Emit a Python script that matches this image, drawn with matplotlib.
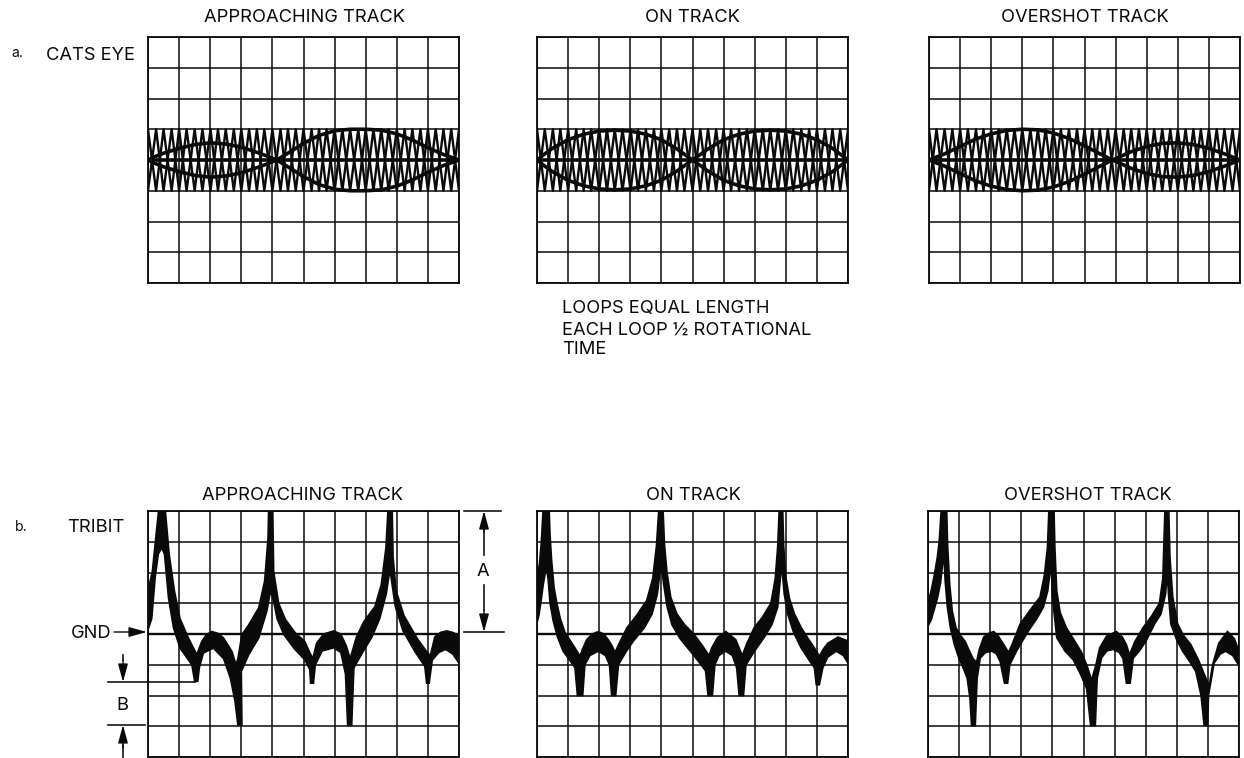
import numpy as np
import matplotlib
matplotlib.use('Agg')
import matplotlib.pyplot as plt
from matplotlib.lines import Line2D

plt.rcParams['font.family'] = ['Inter', 'DejaVu Sans']

titles = ['APPROACHING TRACK', 'ON TRACK', 'OVERSHOT TRACK']

# carrier nodes, grid divisions
carrier_nodes_a = [0.0, 0.26, 0.5, 0.76, 1.0, 1.24, 1.5, 1.75, 2.01, 2.25, 2.5, 2.76, 3.0, 3.25, 3.5, 3.74, 4.0, 4.26, 4.5,
                   4.75, 5.0, 5.26, 5.5, 5.74, 6.0, 6.25, 6.5, 6.76, 7.0, 7.25, 7.5, 7.74, 8.0, 8.25, 8.5, 8.76, 9.0, 9.25,
                   9.5, 9.75, 10.0]
carrier_nodes_b = [0.0, 0.25, 0.51, 0.75, 1.0, 1.26, 1.5, 1.74, 2.0, 2.25, 2.5, 2.75, 3.01, 3.25, 3.5, 3.76, 4.0, 4.25, 4.5,
                   4.74, 5.0, 5.25, 5.5, 5.76, 6.0, 6.24, 6.5, 6.75, 7.0, 7.26, 7.5, 7.75, 8.0, 8.24, 8.5, 8.75, 9.0, 9.26,
                   9.5, 9.75, 10.0]
carrier_nodes_c = [0.0, 0.24, 0.5, 0.75, 1.0, 1.25, 1.51, 1.75, 2.0, 2.24, 2.5, 2.75, 3.0, 3.26, 3.5, 3.75, 4.0, 4.24, 4.5,
                   4.76, 5.0, 5.25, 5.49, 5.75, 6.0, 6.26, 6.5, 6.75, 7.0, 7.24, 7.5, 7.76, 8.0, 8.25, 8.5, 8.74, 9.0, 9.25,
                   9.5, 9.76, 10.0]
carriers = [carrier_nodes_a, carrier_nodes_b, carrier_nodes_c]

# cats eye envelope half heights
eye_x_a = [0, 0.25, 0.5, 1, 1.5, 2, 2.5, 3, 3.5, 3.85, 4.14, 4.5, 5, 5.5, 6, 6.5, 7, 7.5, 8, 8.5, 9, 9.5, 10]
eye_h_a = [0, 0.12, 0.22, 0.38, 0.5, 0.56, 0.52, 0.42, 0.25, 0.12, 0, 0.22, 0.54, 0.8, 0.95, 1.0, 1.0, 0.97, 0.85, 0.65, 0.4, 0.18, 0]
eye_x_b = [0, 0.25, 0.5, 1, 1.5, 2, 2.5, 3, 3.5, 4, 4.5, 5, 5.5, 6, 6.5, 7, 7.5, 8, 8.5, 9, 9.5, 10]
eye_h_b = [0, 0.2, 0.38, 0.66, 0.84, 0.94, 0.97, 0.94, 0.84, 0.66, 0.36, 0, 0.36, 0.66, 0.84, 0.94, 0.97, 0.94, 0.84, 0.66, 0.38, 0]
eye_x_c = [0, 0.5, 1, 1.5, 2, 2.5, 3, 3.5, 4, 4.5, 5, 5.5, 5.9, 6.5, 7, 7.5, 8, 8.5, 9, 9.5, 10]
eye_h_c = [0, 0.2, 0.44, 0.68, 0.85, 0.96, 1.0, 0.98, 0.88, 0.7, 0.46, 0.2, 0, 0.27, 0.44, 0.54, 0.56, 0.5, 0.38, 0.2, 0]
eyes = [(eye_x_a, eye_h_a), (eye_x_b, eye_h_b), (eye_x_c, eye_h_c)]

# tribit traces, upper and lower edge of the band
upper_x_a = [0, 0.14, 0.25, 0.35, 0.55, 0.68, 0.85, 1.03, 1.3, 1.52, 1.57, 1.73, 1.88, 2.05, 2.25, 2.43, 2.7, 2.83, 2.89, 3.02,
             3.24, 3.56, 3.75, 3.86, 3.88, 4.01, 4.04, 4.2, 4.42, 4.74, 5.04, 5.2, 5.3, 5.42, 5.65, 5.97, 6.2, 6.38, 6.5, 6.7,
             6.94, 7.3, 7.5, 7.65, 7.72, 7.85, 7.88, 7.98, 8.23, 8.66, 8.98, 9.08, 9.22, 9.4, 9.6, 9.8, 10]
upper_y_a = [5.4, 6.04, 7.13, 8.1, 8.1, 6.6, 5.4, 4.5, 3.87, 3.43, 3.33, 3.76, 3.98, 4.08, 4.02, 3.87, 3.43, 3.0, 3.2, 3.98,
             4.3, 4.85, 5.72, 7.13, 8.1, 8.1, 6.04, 5.0, 4.47, 4.03, 3.76, 3.4, 3.2, 3.7, 4.0, 4.1, 4.0, 3.6, 3.2, 3.9,
             4.4, 4.9, 5.6, 6.8, 8.1, 8.1, 6.5, 5.4, 4.6, 3.85, 3.4, 3.3, 3.9, 4.05, 4.1, 4.05, 3.95]
lower_x_a = [0, 0.12, 0.23, 0.33, 0.44, 0.53, 0.66, 0.82, 1.03, 1.41, 1.5, 1.6, 1.65, 1.78, 2.1, 2.43, 2.65, 2.8, 2.89, 3.02,
             3.0, 3.24, 3.56, 3.82, 3.94, 4.04, 4.15, 4.37, 4.69, 5.04, 5.2, 5.23, 5.32, 5.38, 5.6, 5.97, 6.2, 6.35, 6.42, 6.55,
             6.62, 6.9, 7.2, 7.45, 7.66, 7.78, 7.85, 7.95, 8.2, 8.6, 8.9, 8.96, 9.04, 9.14, 9.35, 9.57, 9.8, 10]
lower_y_a = [4.14, 4.5, 5.83, 6.6, 6.8, 6.6, 5.17, 4.2, 3.54, 3.0, 2.46, 2.46, 2.9, 3.38, 3.54, 3.2, 2.56, 1.8, 1.04, 1.04,
             2.78, 3.33, 3.87, 4.74, 5.4, 5.07, 4.5, 3.98, 3.54, 3.16, 2.85, 2.4, 2.4, 3.0, 3.45, 3.55, 3.4, 2.7, 1.04, 1.04,
             2.9, 3.4, 3.9, 4.5, 5.3, 6.1, 5.6, 4.9, 4.1, 3.4, 2.95, 2.4, 2.4, 3.15, 3.4, 3.5, 3.35, 3.05]

upper_x_b = [0, 0.08, 0.14, 0.2, 0.39, 0.42, 0.47, 0.55, 0.64, 0.75, 0.9, 1.06, 1.22, 1.38, 1.46, 1.6, 1.78, 1.97, 2.15, 2.3,
             2.42, 2.51, 2.62, 2.89, 3.2, 3.53, 3.72, 3.84, 3.92, 4.05, 4.1, 4.18, 4.3, 4.5, 4.75, 5.04, 5.3, 5.53, 5.62, 5.8,
             6.07, 6.39, 6.6, 6.75, 6.98, 7.25, 7.52, 7.66, 7.74, 7.79, 7.9, 7.93, 8.0, 8.12, 8.28, 8.5, 8.7, 8.9, 9.08, 9.2,
             9.35, 9.68, 10]
upper_y_b = [5.75, 6.3, 7.0, 8.1, 8.1, 7.2, 6.4, 5.5, 5.0, 4.5, 4.05, 3.8, 3.55, 3.28, 3.5, 3.82, 4.0, 4.08, 4.0, 3.8,
             3.6, 3.4, 3.65, 4.2, 4.6, 5.1, 5.8, 6.85, 8.1, 8.1, 6.9, 6.0, 5.2, 4.65, 4.3, 4.0, 3.65, 3.3, 3.55, 3.88,
             4.08, 3.82, 3.3, 3.7, 4.2, 4.55, 5.0, 5.8, 6.85, 8.1, 8.1, 6.9, 5.85, 5.15, 4.65, 4.2, 3.88, 3.58, 3.28, 3.5,
             3.7, 3.9, 3.77]
lower_x_b = [0, 0.06, 0.12, 0.2, 0.3, 0.36, 0.42, 0.52, 0.66, 0.84, 1.05, 1.22, 1.3, 1.47, 1.54, 1.7, 1.97, 2.2, 2.33, 2.4,
             2.53, 2.62, 2.85, 3.1, 3.45, 3.7, 3.87, 3.99, 4.07, 4.18, 4.34, 4.6, 4.93, 5.2, 5.42, 5.5, 5.64, 5.72, 5.85, 6.07,
             6.28, 6.42, 6.5, 6.64, 6.72, 7.0, 7.3, 7.55, 7.74, 7.84, 7.88, 7.95, 8.06, 8.25, 8.49, 8.75, 8.92, 8.98, 9.08, 9.19,
             9.35, 9.62, 9.85, 10]
lower_y_b = [4.37, 4.6, 5.0, 5.6, 6.2, 5.75, 5.0, 4.43, 3.9, 3.44, 3.15, 2.9, 2.0, 2.0, 3.0, 3.3, 3.44, 3.3, 3.0, 2.0,
             2.0, 3.0, 3.4, 3.77, 4.2, 4.65, 5.3, 6.3, 5.64, 4.9, 4.3, 3.85, 3.44, 3.1, 2.8, 2.0, 2.0, 3.0, 3.3, 3.44,
             3.3, 2.9, 2.0, 2.0, 3.0, 3.45, 3.88, 4.3, 4.87, 5.97, 6.1, 5.3, 4.65, 4.05, 3.55, 3.15, 2.9, 2.35, 2.35, 2.9,
             3.25, 3.44, 3.3, 3.05]

upper_x_c = [0, 0.1, 0.2, 0.3, 0.36, 0.43, 0.6, 0.63, 0.7, 0.78, 0.9, 1.05, 1.2, 1.33, 1.45, 1.56, 1.65, 1.79, 1.95, 2.11,
             2.25, 2.38, 2.5, 2.59, 2.7, 2.96, 3.3, 3.6, 3.74, 3.84, 3.89, 4.05, 4.08, 4.14, 4.25, 4.45, 4.7, 4.94, 5.12, 5.26,
             5.4, 5.52, 5.74, 6.06, 6.25, 6.38, 6.48, 6.65, 6.91, 7.2, 7.44, 7.55, 7.62, 7.74, 7.78, 7.87, 8.03, 8.22, 8.45, 8.7,
             8.9, 9.04, 9.15, 9.35, 9.63, 9.85, 10]
upper_y_c = [5.03, 5.4, 5.9, 6.5, 7.0, 8.1, 8.1, 6.9, 5.6, 4.75, 4.2, 3.95, 3.75, 3.45, 3.2, 3.08, 3.5, 3.9, 4.02, 4.08,
             3.95, 3.75, 3.55, 3.4, 3.65, 4.32, 4.8, 5.2, 5.9, 6.8, 8.1, 8.1, 6.8, 5.4, 4.7, 4.2, 3.8, 3.4, 2.95, 2.5,
             3.0, 3.55, 3.93, 4.08, 3.9, 3.65, 3.33, 3.75, 4.2, 4.6, 5.0, 5.8, 8.1, 8.1, 6.5, 5.2, 4.32, 3.95, 3.66, 3.15,
             2.65, 2.3, 3.0, 3.7, 4.08, 3.85, 3.44]
lower_x_c = [0, 0.1, 0.19, 0.3, 0.4, 0.51, 0.55, 0.62, 0.72, 0.85, 0.99, 1.15, 1.26, 1.35, 1.4, 1.52, 1.58, 1.68, 1.85, 2.06,
             2.2, 2.32, 2.46, 2.56, 2.63, 2.85, 3.23, 3.5, 3.71, 3.85, 3.96, 4.0, 4.14, 4.4, 4.67, 4.9, 5.1, 5.23, 5.38, 5.44,
             5.58, 5.75, 5.95, 6.15, 6.27, 6.38, 6.5, 6.6, 6.8, 7.01, 7.3, 7.49, 7.64, 7.69, 7.74, 7.81, 8.0, 8.19, 8.45, 8.61,
             8.78, 8.88, 8.99, 9.02, 9.2, 9.4, 9.57, 9.8, 9.95, 10]
lower_y_c = [4.26, 4.45, 4.76, 5.15, 5.64, 6.63, 5.75, 4.9, 4.2, 3.65, 3.22, 2.85, 2.56, 1.9, 1.02, 1.02, 2.56, 3.22, 3.4, 3.44,
             3.35, 3.1, 2.4, 2.4, 3.0, 3.45, 4.1, 4.5, 4.87, 5.4, 6.3, 5.2, 3.88, 3.45, 3.16, 2.7, 2.23, 1.02, 1.02, 2.56,
             3.22, 3.45, 3.5, 3.4, 3.2, 2.4, 2.4, 3.22, 3.45, 3.77, 4.35, 4.65, 5.3, 6.0, 5.2, 4.32, 3.8, 3.44, 3.05, 2.78,
             2.0, 1.02, 1.02, 2.01, 3.05, 3.35, 3.44, 3.3, 3.05, 3.0]

traces = [(upper_x_a, upper_y_a, lower_x_a, lower_y_a),
          (upper_x_b, upper_y_b, lower_x_b, lower_y_b),
          (upper_x_c, upper_y_c, lower_x_c, lower_y_c)]

W, H = 1244, 758
INK = '#0a0a0a'
FS = 13.2
col_lefts_top = [148, 537, 929]
col_lefts_bot = [148, 537, 928]
PANEL_W = 311


def fx(x, y):
    return (x / W, 1 - y / H)


def add_panel(fig, left, top, bottom):
    ax = fig.add_axes([left / W, 1 - bottom / H, PANEL_W / W, (bottom - top) / H])
    ax.set_xlim(0, 10)
    ax.set_ylim(0, 8)
    ax.set_xticks(range(11))
    ax.set_yticks(range(9))
    ax.tick_params(length=0, labelbottom=False, labelleft=False)
    ax.grid(True, color=INK, lw=1.1)
    ax.set_axisbelow(True)
    for s in ax.spines.values():
        s.set_linewidth(1.3)
        s.set_color(INK)
    return ax


def label(fig, x, y, s, ha='center', size=FS):
    fig.text(*fx(x, y), s, ha=ha, va='center', fontsize=size, color=INK)


def hline(fig, x0, x1, y, lw=1.15):
    fig.add_artist(Line2D([x0 / W, x1 / W], [1 - y / H, 1 - y / H], color=INK, lw=lw))


def vline(fig, x, y0, y1):
    fig.add_artist(Line2D([x / W, x / W], [1 - y0 / H, 1 - y1 / H], color=INK, lw=1.15))


def head(fig, tip, tail):
    plt.annotate('', xy=fx(*tip), xytext=fx(*tail), xycoords='figure fraction', textcoords='figure fraction',
                 arrowprops=dict(arrowstyle='-|>,head_width=0.3,head_length=1.1', color=INK, lw=1.0, shrinkA=0, shrinkB=0))


fig = plt.figure(figsize=(W / 100, H / 100), dpi=100)

# row a, cats eye
for i in range(3):
    ax = add_panel(fig, col_lefts_top[i], 37, 283)
    nodes = np.array(carriers[i])
    tops = np.where(np.arange(len(nodes)) % 2 == 0, 5, 3)
    ax.plot(nodes, tops, color=INK, lw=1.7, zorder=3)
    ax.plot(nodes, 8 - tops, color=INK, lw=1.7, zorder=3)
    ex, eh = eyes[i]
    ex = np.array(ex)
    eh = np.array(eh)
    ax.plot(ex, 4 + eh, color=INK, lw=2.6, zorder=4)
    ax.plot(ex, 4 - eh, color=INK, lw=2.6, zorder=4)
    ax.axhline(4, color=INK, lw=2.6, zorder=4)
    label(fig, [305, 692, 1085][i], 17, titles[i])

# row b, tribit
axes_b = []
for i in range(3):
    ax = add_panel(fig, col_lefts_bot[i], 511, 757)
    ux, uy, lx, ly = traces[i]
    ax.fill(list(ux) + list(lx)[::-1], list(uy) + list(ly)[::-1], color=INK, lw=1.2, zorder=3)
    ax.axhline(4, color=INK, lw=1.7, zorder=2)
    axes_b.append(ax)
    label(fig, [303, 693, 1088][i], 495, titles[i])

# left side labels
label(fig, 17, 53, 'a.', size=10)
label(fig, 91, 55, 'CATS EYE')
label(fig, 21, 527, 'b.', size=10)
label(fig, 96, 527, 'TRIBIT')
label(fig, 91, 634, 'GND')
label(fig, 122, 705, 'B')
label(fig, 483, 572, 'A')

# dimension marks on the approaching panel
hline(fig, 464, 501, 511)
hline(fig, 464, 504, 632)
hline(fig, 108, 195, 682)
hline(fig, 108, 145, 725)
vline(fig, 484, 530, 555)
vline(fig, 484, 585, 610)
vline(fig, 123, 655, 660)
vline(fig, 123, 745, 758)
head(fig, (147, 632), (114, 632))
head(fig, (484, 511), (484, 532))
head(fig, (484, 632), (484, 610))
head(fig, (123, 682), (123, 660))
head(fig, (123, 725), (123, 748))

# note under the on track panel
fig.text(*fx(562, 309), 'LOOPS EQUAL LENGTH', ha='left', va='center', fontsize=FS, color=INK)
fig.text(*fx(562, 330), 'EACH LOOP ½ ROTATIONAL', ha='left', va='center', fontsize=FS, color=INK)
fig.text(*fx(562, 350), 'TIME', ha='left', va='center', fontsize=FS, color=INK)

fig.savefig('out.png', dpi=100)
